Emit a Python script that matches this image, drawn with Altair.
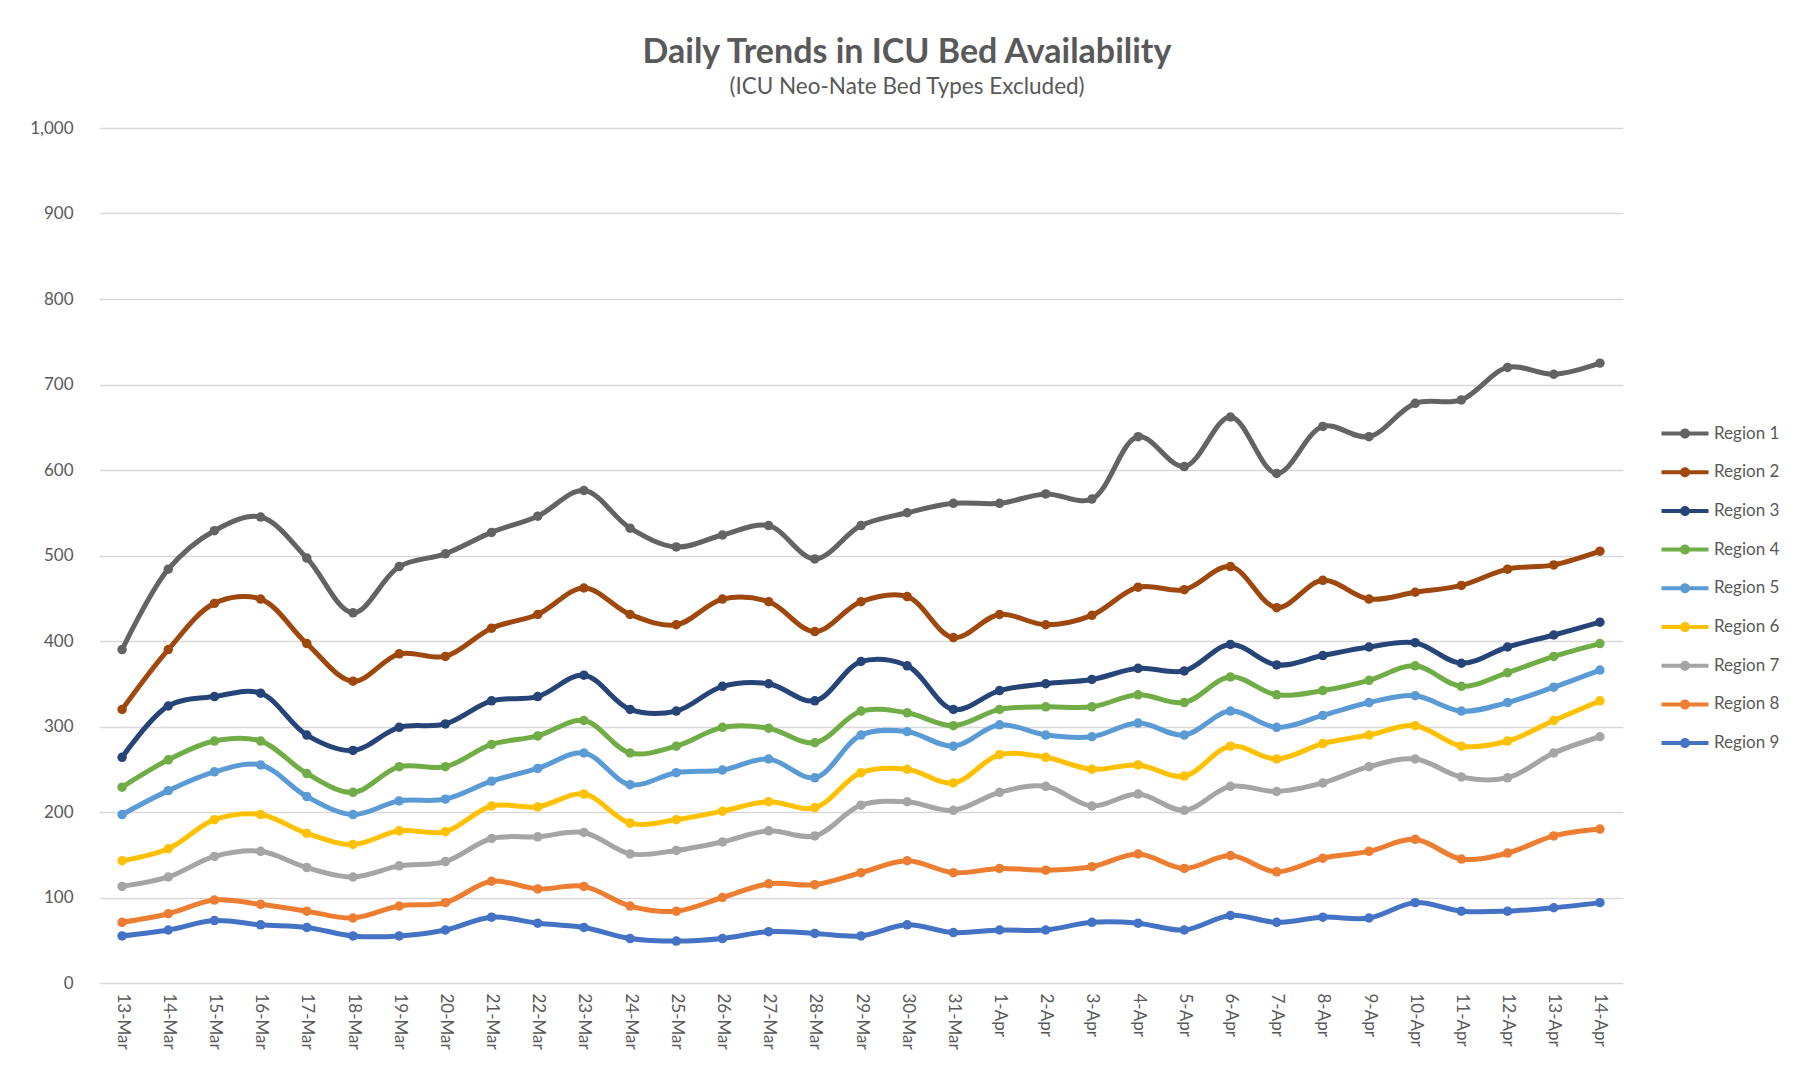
import altair as alt
import pandas as pd

dates = ["13-Mar", "14-Mar", "15-Mar", "16-Mar", "17-Mar", "18-Mar", "19-Mar", "20-Mar",
         "21-Mar", "22-Mar", "23-Mar", "24-Mar", "25-Mar", "26-Mar", "27-Mar", "28-Mar",
         "29-Mar", "30-Mar", "31-Mar", "1-Apr", "2-Apr", "3-Apr", "4-Apr", "5-Apr",
         "6-Apr", "7-Apr", "8-Apr", "9-Apr", "10-Apr", "11-Apr", "12-Apr", "13-Apr", "14-Apr"]

regions = ["Region 1", "Region 2", "Region 3", "Region 4", "Region 5",
           "Region 6", "Region 7", "Region 8", "Region 9"]

colors = ["#636363", "#9e480e", "#264478", "#70ad47", "#5b9bd5",
          "#ffc000", "#a5a5a5", "#ed7d31", "#4472c4"]

region1 = [390, 484, 529, 545, 497, 433, 487, 502, 527, 546, 576, 532, 510, 524, 535, 496,
           535, 550, 561, 561, 572, 566, 639, 604, 662, 596, 651, 639, 678, 682, 720, 712, 725]
region2 = [320, 390, 444, 449, 397, 353, 385, 382, 415, 431, 462, 431, 419, 449, 446, 411,
           446, 452, 404, 431, 419, 430, 463, 460, 487, 439, 471, 449, 457, 465, 484, 489, 505]
region3 = [264, 324, 335, 339, 290, 272, 299, 303, 330, 335, 360, 320, 318, 347, 350, 330,
           376, 371, 320, 342, 350, 355, 368, 365, 396, 372, 383, 393, 398, 374, 393, 407, 422]
region4 = [229, 261, 283, 283, 245, 223, 253, 253, 279, 289, 307, 269, 277, 299, 298, 281,
           318, 316, 301, 320, 323, 323, 337, 328, 358, 337, 342, 354, 371, 347, 363, 382, 397]
region5 = [197, 225, 247, 255, 218, 197, 213, 215, 236, 251, 269, 232, 246, 249, 262, 240,
           290, 294, 277, 302, 290, 288, 304, 290, 318, 299, 313, 328, 336, 318, 328, 346, 366]
region6 = [143, 157, 191, 197, 175, 162, 178, 177, 207, 206, 221, 187, 191, 201, 212, 205,
           246, 250, 234, 267, 264, 250, 255, 242, 277, 262, 280, 290, 301, 277, 283, 307, 330]
region7 = [113, 124, 148, 154, 135, 124, 137, 142, 169, 171, 176, 151, 155, 165, 178, 172,
           208, 212, 202, 223, 230, 207, 221, 202, 230, 224, 234, 253, 262, 241, 240, 269, 288]
region8 = [71, 81, 97, 92, 84, 76, 90, 94, 119, 110, 113, 90, 84, 100, 116, 115,
           129, 143, 129, 134, 132, 136, 151, 134, 149, 130, 146, 154, 168, 145, 152, 172, 180]
region9 = [55, 62, 73, 68, 65, 55, 55, 62, 77, 70, 65, 52, 49, 52, 60, 58,
           55, 68, 59, 62, 62, 71, 70, 62, 79, 71, 77, 76, 94, 84, 84, 88, 94]

y_ticks = [0, 100, 200, 300, 400, 500, 600, 700, 800, 900, 1000]

series = [region1, region2, region3, region4, region5, region6, region7, region8, region9]
rows = []
for name, col, vals in zip(regions, colors, series):
    for d, v in zip(dates, vals):
        rows.append({"date": d, "region": name, "hex": col, "beds": v})
df = pd.DataFrame(rows)

FONT = "Lato"
TXT = "#595959"

x_enc = alt.X("date:N", sort=dates, title=None,
              axis=alt.Axis(labelAngle=90, labelFontSize=17, labelColor=TXT, labelFont=FONT,
                            ticks=False, domain=False, grid=False, labelPadding=10))
y_enc = alt.Y("beds:Q", title=None, scale=alt.Scale(domain=[0, 1000], nice=False),
              axis=alt.Axis(values=y_ticks, format=",.0f", labelFontSize=17, labelColor=TXT,
                            labelFont=FONT, ticks=False, domain=False, labelPadding=26,
                            gridColor="#d9d9d9", gridWidth=1.5))

legend_symbol = ("M-4.7,-0.4 L4.7,-0.4 L4.7,0.4 L-4.7,0.4 Z "
                 "M1.0,0 A1.0,1.0 0 1,1 -1.0,0 A1.0,1.0 0 1,1 1.0,0 Z")

base = alt.Chart(df).encode(x=x_enc, y=y_enc)

lines = base.mark_line(interpolate="catmull-rom", strokeWidth=5).encode(
    stroke=alt.Stroke("hex:N", scale=None)
)
points = base.mark_circle(size=90, opacity=1).encode(
    color=alt.Color("region:N", scale=alt.Scale(domain=regions, range=colors),
                    legend=alt.Legend(title=None, orient="none", legendX=1577.5, legendY=297,
                                      symbolType=legend_symbol, symbolSize=100,
                                      symbolStrokeWidth=0, symbolOpacity=1,
                                      labelFontSize=17, labelColor=TXT, labelFont=FONT,
                                      labelOffset=20.5, rowPadding=20.7))
)

chart = alt.layer(lines, points).properties(
    width=1524, height=855,
    autosize="none",
    background="white",
    padding={"left": 91, "top": 120, "right": 160, "bottom": 75},
    title=alt.TitleParams(
        text="Daily Trends in ICU Bed Availability",
        subtitle="(ICU Neo-Nate Bed Types Excluded)",
        font=FONT, fontSize=34, fontWeight="bold", color=TXT,
        subtitleFont=FONT, subtitleFontSize=22.5, subtitleColor=TXT,
        anchor="middle", dx=46, offset=21, subtitlePadding=6,
    ),
).configure_view(stroke=None)

chart.save("out.html", embed_options={"renderer": "svg", "actions": False})
